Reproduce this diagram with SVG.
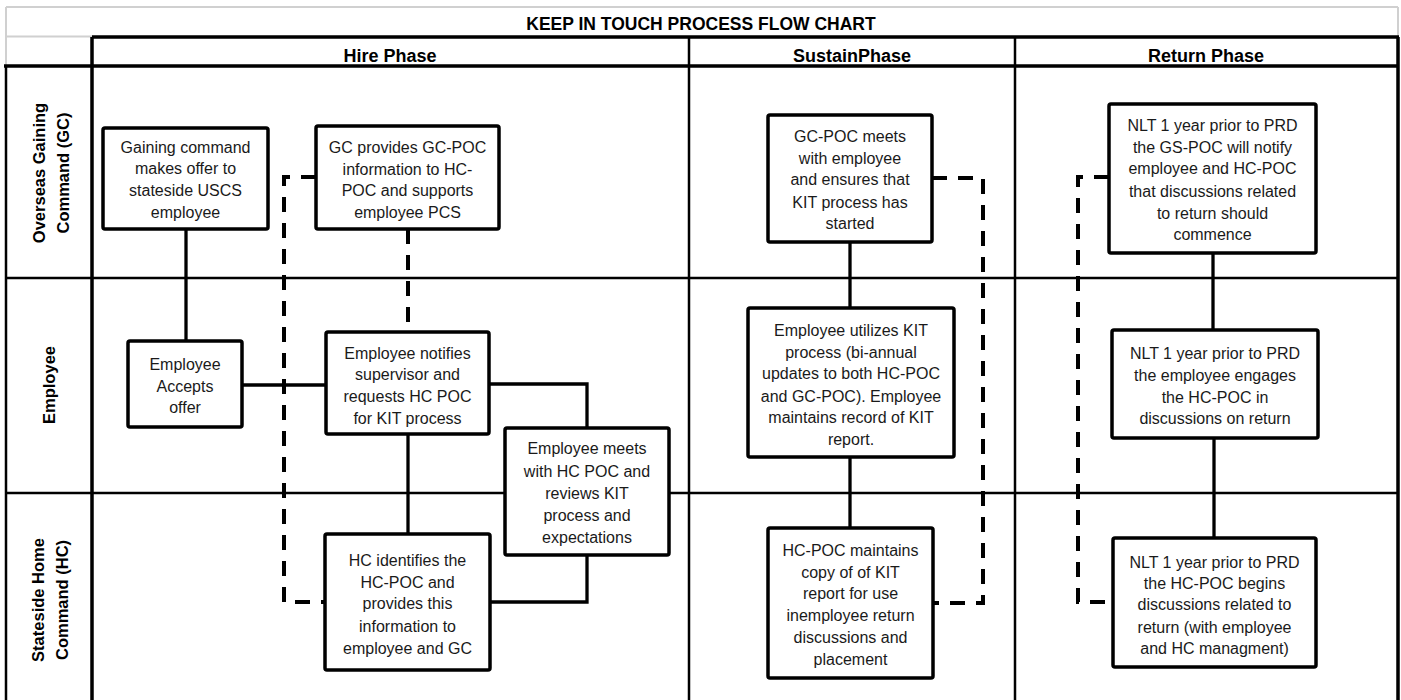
<svg xmlns="http://www.w3.org/2000/svg" width="1401" height="700" viewBox="0 0 1401 700">
<style>
.bg{fill:#fff}
.gray{stroke:#d0d0d0;stroke-width:2;fill:none}
.thick{stroke:#000;stroke-width:3.5;fill:none}
.thin{stroke:#000;stroke-width:2.5;fill:none}
.box{fill:#fff;stroke:#000;stroke-width:3.5}
.conn{stroke:#000;stroke-width:3.3;fill:none}
.dash{stroke:#000;stroke-width:4;fill:none;stroke-dasharray:15 11}
.t{font-family:"Liberation Sans",Arial,sans-serif;font-size:16px;fill:#1a1a1a;text-anchor:middle}
.h{font-family:"Liberation Sans",Arial,sans-serif;font-size:18px;font-weight:bold;fill:#000;text-anchor:middle}
.ttl{font-size:17.5px}
.lane{font-family:"Liberation Sans",Arial,sans-serif;font-size:16.5px;font-weight:bold;fill:#000;text-anchor:middle}
</style>
<rect class="bg" x="0" y="0" width="1401" height="700"/>
<g id="grid">
<path class="gray" d="M6 7 H1398 M6 7 V66 M6 36.5 H92 M1398 7 V37"/>
<path class="thin" d="M6 66 V700 M689 37 V700 M1015 37 V700 M6 278 H1398 M6 493 H1398"/>
<path class="thick" d="M92 37 H1399 M4 66 H1399 M92 37 V700 M1398 37 V700"/>
<text class="h ttl" x="701" y="30">KEEP IN TOUCH PROCESS FLOW CHART</text>
<text class="h" x="390" y="61.5">Hire Phase</text>
<text class="h" x="852" y="61.5">SustainPhase</text>
<text class="h" x="1206" y="61.5">Return Phase</text>
<text class="lane" transform="translate(0,173) rotate(-90)"><tspan x="0" y="45">Overseas Gaining</tspan><tspan x="0" y="69">Command (GC)</tspan></text>
<text class="lane" transform="translate(0,385) rotate(-90)"><tspan x="0" y="55">Employee</tspan></text>
<text class="lane" transform="translate(0,600) rotate(-90)"><tspan x="0" y="44">Stateside Home</tspan><tspan x="0" y="68">Command (HC)</tspan></text>
</g>
<g id="connectors">
<path class="conn" d="M186 229 V341"/>
<path class="conn" d="M242 385 H326"/>
<path class="conn" d="M489 384 H587 V428"/>
<path class="conn" d="M408 434 V534"/>
<path class="conn" d="M587 555 V602 H490"/>
<path class="conn" d="M850 242 V308"/>
<path class="conn" d="M850 457 V528"/>
<path class="conn" d="M1213 253 V330"/>
<path class="conn" d="M1214 438 V538"/>
<path class="dash" d="M316 177 H284 V602 H325"/>
<path class="dash" d="M408 229 V332"/>
<path class="dash" d="M932 178 H983 V603 H933"/>
<path class="dash" d="M1109 177 H1078 V602 H1113"/>
</g>
<g id="gc_offer">
<rect class="box" x="103" y="128" width="165" height="101" rx="2"/>
<text class="t"><tspan x="185.5" y="152.5">Gaining command</tspan><tspan x="185.5" y="173.5">makes offer to</tspan><tspan x="185.5" y="195.5">stateside USCS</tspan><tspan x="185.5" y="217.5">employee</tspan></text>
</g>
<g id="gc_info">
<rect class="box" x="316" y="126" width="183" height="103" rx="2"/>
<text class="t"><tspan x="407.5" y="152.5">GC provides GC-POC</tspan><tspan x="407.5" y="174.5">information to HC-</tspan><tspan x="407.5" y="195.5">POC and supports</tspan><tspan x="407.5" y="217.5">employee  PCS</tspan></text>
</g>
<g id="emp_accept">
<rect class="box" x="128" y="341" width="114" height="86" rx="2"/>
<text class="t"><tspan x="185" y="369.5">Employee</tspan><tspan x="185" y="391.5">Accepts</tspan><tspan x="185" y="412.5">offer</tspan></text>
</g>
<g id="emp_notify">
<rect class="box" x="326" y="332" width="163" height="102" rx="2"/>
<text class="t"><tspan x="407.5" y="358.5">Employee notifies</tspan><tspan x="407.5" y="379.5">supervisor and</tspan><tspan x="407.5" y="401.5">requests HC POC</tspan><tspan x="407.5" y="423.5">for KIT process</tspan></text>
</g>
<g id="emp_meets">
<rect class="box" x="505" y="428" width="164" height="127" rx="2"/>
<text class="t"><tspan x="587" y="453.5">Employee meets</tspan><tspan x="587" y="476.5">with HC POC and</tspan><tspan x="587" y="498.5">reviews KIT</tspan><tspan x="587" y="520.5">process and</tspan><tspan x="587" y="542.5">expectations</tspan></text>
</g>
<g id="hc_identify">
<rect class="box" x="325" y="534" width="165" height="136" rx="2"/>
<text class="t"><tspan x="407.5" y="565.5">HC identifies the</tspan><tspan x="407.5" y="587.5">HC-POC and</tspan><tspan x="407.5" y="608.5">provides this</tspan><tspan x="407.5" y="631.5">information to</tspan><tspan x="407.5" y="653.5">employee and GC</tspan></text>
</g>
<g id="gcpoc_meets">
<rect class="box" x="768" y="115" width="164" height="127" rx="2"/>
<text class="t"><tspan x="850" y="141.5">GC-POC meets</tspan><tspan x="850" y="163.5">with employee</tspan><tspan x="850" y="184.5">and ensures that</tspan><tspan x="850" y="207.5">KIT process has</tspan><tspan x="850" y="228.5">started</tspan></text>
</g>
<g id="emp_utilize">
<rect class="box" x="748" y="308" width="206" height="149" rx="2"/>
<text class="t"><tspan x="851" y="335.5">Employee  utilizes KIT</tspan><tspan x="851" y="357.5">process (bi-annual</tspan><tspan x="851" y="378.5">updates to both HC-POC</tspan><tspan x="851" y="401.5">and GC-POC). Employee</tspan><tspan x="851" y="422.5">maintains record of KIT</tspan><tspan x="851" y="444.5">report.</tspan></text>
</g>
<g id="hcpoc_maintains">
<rect class="box" x="768" y="528" width="165" height="150" rx="2"/>
<text class="t"><tspan x="850.5" y="555.5">HC-POC maintains</tspan><tspan x="850.5" y="577.5">copy of of KIT</tspan><tspan x="850.5" y="598.5">report for use</tspan><tspan x="850.5" y="620.5">inemployee return</tspan><tspan x="850.5" y="642.5">discussions and</tspan><tspan x="850.5" y="664.5">placement</tspan></text>
</g>
<g id="ret_gs">
<rect class="box" x="1109" y="104" width="207" height="149" rx="2"/>
<text class="t"><tspan x="1212.5" y="130.5">NLT  1 year prior to PRD</tspan><tspan x="1212.5" y="152.5">the GS-POC will notify</tspan><tspan x="1212.5" y="173.5">employee  and HC-POC</tspan><tspan x="1212.5" y="196.5">that discussions related</tspan><tspan x="1212.5" y="218.5">to return should</tspan><tspan x="1212.5" y="239.5">commence</tspan></text>
</g>
<g id="ret_emp">
<rect class="box" x="1112" y="330" width="206" height="108" rx="2"/>
<text class="t"><tspan x="1215" y="358.5">NLT 1 year prior to PRD</tspan><tspan x="1215" y="380.5">the employee engages</tspan><tspan x="1215" y="402.5">the HC-POC in</tspan><tspan x="1215" y="423.5">discussions on return</tspan></text>
</g>
<g id="ret_hc">
<rect class="box" x="1113" y="538" width="203" height="129" rx="2"/>
<text class="t"><tspan x="1214.5" y="567.5">NLT 1 year prior to PRD</tspan><tspan x="1214.5" y="588.5">the HC-POC begins</tspan><tspan x="1214.5" y="609.5">discussions related to</tspan><tspan x="1214.5" y="632.5">return (with employee</tspan><tspan x="1214.5" y="653.5">and HC managment)</tspan></text>
</g>
</svg>
